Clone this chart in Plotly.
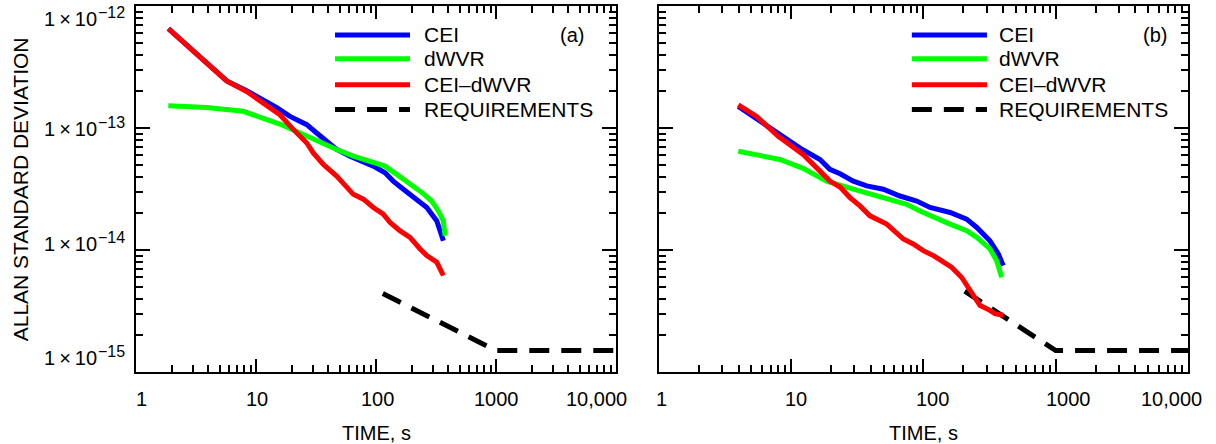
import plotly.graph_objects as go
import math

# ---------------- data ----------------
# Panel (a)
a_cei_t = [1.86, 5.70, 8.36, 11.5, 14.9, 19.2, 26.5, 32.0, 38.8, 47.0, 60.7, 78.4, 95.0,
           119, 139, 169, 218, 265, 321, 341, 364]
a_cei_s = [6.53e-13, 2.43e-13, 2.02e-13, 1.70e-13, 1.47e-13, 1.245e-13, 1.065e-13, 9.1e-14,
           7.78e-14, 6.67e-14, 5.88e-14, 5.35e-14, 4.87e-14, 4.30e-14, 3.67e-14, 3.15e-14,
           2.61e-14, 2.23e-14, 1.73e-14, 1.44e-14, 1.19e-14]
a_wvr_t = [1.86, 3.88, 7.84, 15.8, 23.3, 36.4, 47.0, 64.7, 89.1, 119, 149, 192, 248, 291,
           331, 364, 376]
a_wvr_s = [1.52e-13, 1.47e-13, 1.37e-13, 1.077e-13, 9.1e-14, 7.40e-14, 6.67e-14, 5.88e-14,
           5.35e-14, 4.87e-14, 4.17e-14, 3.49e-14, 2.90e-14, 2.52e-14, 2.09e-14, 1.73e-14,
           1.31e-14]
a_diff_t = [1.86, 5.70, 8.36, 12.3, 15.8, 20.5, 26.5, 30.0, 36.4, 47.0, 53.4, 64.7, 78.4,
            95.0, 115, 131, 158, 192, 233, 265, 321, 364]
a_diff_s = [6.53e-13, 2.43e-13, 1.99e-13, 1.55e-13, 1.285e-13, 9.7e-14, 7.54e-14, 6.25e-14,
            5.03e-14, 4.04e-14, 3.56e-14, 2.86e-14, 2.61e-14, 2.23e-14, 1.97e-14, 1.68e-14,
            1.44e-14, 1.27e-14, 1.02e-14, 9.0e-15, 7.93e-15, 6.18e-15]
a_req_t = [114, 1000, 10000]
a_req_s = [4.4e-15, 1.5e-15, 1.5e-15]

# Panel (b)
b_cei_t = [3.98, 8.22, 11.6, 16.5, 19.6, 23.4, 29.5, 37.2, 49.7, 66.4, 88.9, 112, 159,
           212, 253, 318, 368, 401]
b_cei_s = [1.50e-13, 8.83e-14, 6.87e-14, 5.52e-14, 4.58e-14, 4.22e-14, 3.67e-14, 3.35e-14,
           3.15e-14, 2.77e-14, 2.52e-14, 2.23e-14, 2.03e-14, 1.79e-14, 1.53e-14, 1.19e-14,
           9.29e-15, 7.45e-15]
b_wvr_t = [3.98, 8.22, 12.3, 18.5, 29.5, 46.9, 62.7, 74.6, 94.1, 119, 159, 212, 253, 318,
           357, 390]
b_wvr_s = [6.45e-14, 5.52e-14, 4.67e-14, 3.67e-14, 3.15e-14, 2.72e-14, 2.45e-14, 2.37e-14,
           2.09e-14, 1.85e-14, 1.63e-14, 1.44e-14, 1.27e-14, 1.02e-14, 8.19e-15, 5.98e-15]
b_diff_t = [3.98, 5.48, 7.98, 12.3, 16.5, 19.6, 23.4, 27.8, 33.1, 39.4, 52.7, 59.1, 70.4,
            83.7, 99.6, 119, 141, 163, 194, 225, 267, 318, 347, 401]
b_diff_s = [1.55e-13, 1.245e-13, 8.55e-14, 6.07e-14, 4.43e-14, 3.67e-14, 3.28e-14, 2.69e-14,
            2.30e-14, 1.905e-14, 1.63e-14, 1.44e-14, 1.23e-14, 1.12e-14, 9.88e-15, 9.0e-15,
            7.93e-15, 7.22e-15, 5.98e-15, 4.66e-15, 3.52e-15, 3.20e-15, 3.01e-15, 2.92e-15]
b_req_t = [205, 1000, 10000]
b_req_s = [4.6e-15, 1.5e-15, 1.5e-15]

series_names = ["CEI", "dWVR", "CEI\u2013dWVR", "REQUIREMENTS"]
x_tickvals = [1, 10, 100, 1000, 10000]
x_ticktext = ["1", "10", "100", "1000", "10,000"]
y_tickvals = [1e-12, 1e-13, 1e-14, 1e-15]
panel_labels = ["(a)", "(b)"]
x_title = "TIME, s"
y_title = "ALLAN STANDARD DEVIATION"

# minor tick positions (2..9 in every decade)
x_minor = [m * 10 ** d for d in range(0, 4) for m in range(2, 10)]
y_minor = [m * 10.0 ** d for d in range(-15, -12) for m in range(2, 10)]

# ---------------- style ----------------
FONT = "Liberation Sans, Arial, sans-serif"
C_CEI = "#0000ff"
C_WVR = "#00ff00"
C_DIFF = "#ff0000"
C_REQ = "#000000"
LW = 5
DASH = "20px,12px"

fig = go.Figure()

panels = [
    ("x", "y", a_cei_t, a_cei_s, a_wvr_t, a_wvr_s, a_diff_t, a_diff_s, a_req_t, a_req_s),
    ("x2", "y2", b_cei_t, b_cei_s, b_wvr_t, b_wvr_s, b_diff_t, b_diff_s, b_req_t, b_req_s),
]
for xa, ya, ct, cs, wt, ws, dt, ds, rt, rs in panels:
    fig.add_trace(go.Scatter(x=rt, y=rs, mode="lines", name=series_names[3], xaxis=xa, yaxis=ya,
                             line=dict(color=C_REQ, width=LW, dash=DASH), showlegend=False))
    fig.add_trace(go.Scatter(x=ct, y=cs, mode="lines", name=series_names[0], xaxis=xa, yaxis=ya,
                             line=dict(color=C_CEI, width=LW), showlegend=False))
    fig.add_trace(go.Scatter(x=wt, y=ws, mode="lines", name=series_names[1], xaxis=xa, yaxis=ya,
                             line=dict(color=C_WVR, width=LW), showlegend=False))
    fig.add_trace(go.Scatter(x=dt, y=ds, mode="lines", name=series_names[2], xaxis=xa, yaxis=ya,
                             line=dict(color=C_DIFF, width=LW), showlegend=False))

axis_common = dict(
    type="log", showgrid=False, zeroline=False, showline=True, linecolor="black", linewidth=2,
    mirror="ticks", ticks="inside", tickcolor="black", tickwidth=1.5, showticklabels=False,
)
x_minor_cfg = dict(ticks="inside", ticklen=7, tickcolor="black", tickwidth=1.5,
                   showgrid=False, tickmode="array", tickvals=x_minor)
y_minor_cfg = dict(ticks="inside", ticklen=7, tickcolor="black", tickwidth=1.5,
                   showgrid=False, tickmode="array", tickvals=y_minor)

fig.update_layout(
    width=1216, height=444,
    margin=dict(l=136, r=28, t=4, b=72),
    paper_bgcolor="white", plot_bgcolor="white",
    font=dict(family=FONT, size=20, color="black"),
    showlegend=False,
    xaxis=dict(axis_common, domain=[0, 0.4563], range=[0, 4], tickvals=x_tickvals,
               ticklen=13, anchor="y", minor=x_minor_cfg),
    yaxis=dict(axis_common, range=[-15, -12], tickvals=y_tickvals, ticklen=14,
               anchor="x", minor=y_minor_cfg),
    xaxis2=dict(axis_common, domain=[0.4971, 1], range=[0, 4], tickvals=x_tickvals,
                ticklen=13, anchor="y2", minor=x_minor_cfg),
    yaxis2=dict(axis_common, range=[-15, -12], tickvals=y_tickvals, ticklen=14,
                anchor="x2", minor=y_minor_cfg),
)

annotations = []
# x tick labels (placed at the ticks, nudged as in the reference)
x_label_nudge = {"x": [5, 1, 1, 0, -20], "x2": [3, 5, 9, 13, -16]}
for xr in ["x", "x2"]:
    for v, txt, nx in zip(x_tickvals, x_ticktext, x_label_nudge[xr]):
        annotations.append(dict(xref=xr, x=math.log10(v), xshift=nx, xanchor="center",
                                yref="paper", y=0, yanchor="top", yshift=-14,
                                text=txt, showarrow=False, font=dict(size=20)))
# x titles
for xr in ["x domain", "x2 domain"]:
    annotations.append(dict(xref=xr, x=0.5, xanchor="center", yref="paper", y=0,
                            yanchor="top", yshift=-48, text=x_title, showarrow=False,
                            font=dict(size=20)))
# y tick labels (panel a): mantissa part and raised exponent part
label_shift = [-13, -1, 6, 14]
for v, sh in zip(y_tickvals, label_shift):
    e = int(round(math.log10(v)))
    annotations.append(dict(
        xref="paper", x=0, xanchor="right", xshift=-37,
        yref="y", y=math.log10(v), yanchor="middle", yshift=sh,
        text="1\u2009\u00d7\u200910", showarrow=False, font=dict(size=20)))
    annotations.append(dict(
        xref="paper", x=0, xanchor="right", xshift=-9,
        yref="y", y=math.log10(v), yanchor="middle", yshift=sh + 7,
        text="\u2212%d" % (-e), showarrow=False, font=dict(size=16)))
# y title
annotations.append(dict(xref="paper", x=-0.110, yref="paper", y=0.5, textangle=-90,
                        text=y_title, showarrow=False,
                        font=dict(size=21), xanchor="center", yanchor="middle"))

shapes = []
legend_cfg = [
    ("x domain", "y domain", 0.4146, 0.5708, 0.596, 0.908, panel_labels[0]),
    ("x2 domain", "y2 domain", 0.478, 0.620, 0.639, 0.9376, panel_labels[1]),
]
row_y = [0.921, 0.856, 0.785, 0.717]
colors = [C_CEI, C_WVR, C_DIFF, C_REQ]
for xr, yr, x0, x1, xt, xl, lab in legend_cfg:
    for name, col, yy in zip(series_names, colors, row_y):
        shapes.append(dict(type="line", xref=xr, yref=yr, x0=x0, x1=x1, y0=yy, y1=yy,
                           line=dict(color=col, width=LW,
                                     dash=DASH if name == "REQUIREMENTS" else "solid")))
        annotations.append(dict(xref=xr, yref=yr, x=xt, y=yy, xanchor="left",
                                yanchor="middle", text=name, showarrow=False,
                                font=dict(size=21)))
    annotations.append(dict(xref=xr, yref=yr, x=xl, y=row_y[0], xanchor="center",
                            yanchor="middle", text=lab, showarrow=False,
                            font=dict(size=20)))

fig.update_layout(annotations=annotations, shapes=shapes)
fig.write_html("out.html")
